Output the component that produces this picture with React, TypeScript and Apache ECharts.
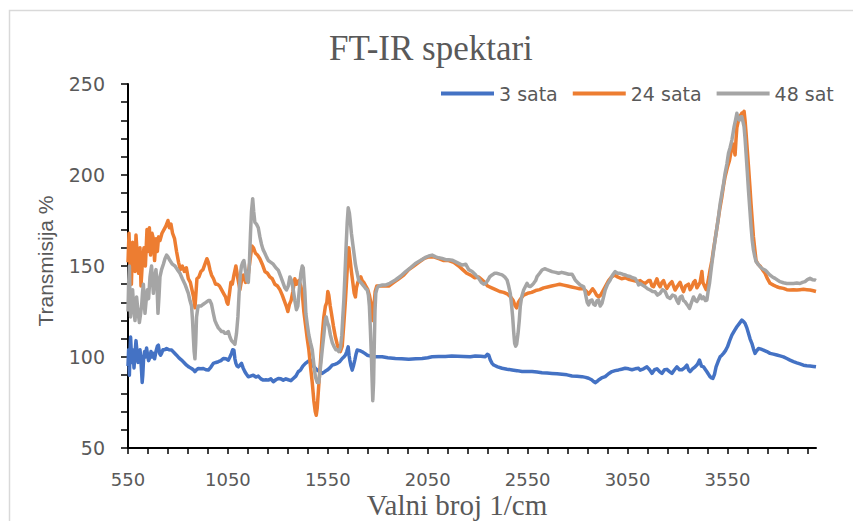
import React, { useEffect, useRef } from "react";
import * as echarts from "echarts";

const title = "FT-IR spektari";
const xAxisName = "Valni broj 1/cm";
const yAxisName = "Transmisija %";
const seriesNames = ["3 sata", "24 sata", "48 sat"];
const seriesColors = ["#4472C4", "#ED7D31", "#A5A5A5"];
const xMin = 550;
const xMax = 3993;
const yMin = 50;
const yMax = 250;

const sata3: [number, number][] = [
  [550, 95], [553, 104], [557, 90], [560, 103], [563, 111], [566, 104], [570, 97], [573, 104], [577, 100], [580, 94],
  [585, 102], [590, 109], [595, 103], [600, 97], [605, 100], [610, 104], [614, 99], [618, 92], [621, 86], [624, 90],
  [628, 99], [633, 103], [638, 100], [643, 105], [648, 101], [653, 98], [660, 100], [665, 103], [670, 100], [677, 102],
  [683, 99], [690, 103], [697, 106], [702, 106.5], [708, 102], [713, 101], [718, 102], [725, 104], [733, 104], [743, 104.7],
  [755, 104], [768, 103.8], [780, 102.5], [793, 101], [805, 99.5], [818, 98.3], [830, 97], [843, 95.5], [855, 94.5], [868, 93.7],
  [877, 93], [885, 91.9], [893, 93], [902, 93.7], [915, 93.5], [927, 93.7], [940, 93], [952, 92.8], [965, 94.5], [977, 96.5],
  [990, 97], [1002, 97.4], [1015, 98], [1027, 99.2], [1040, 99], [1052, 98.3], [1060, 100], [1068, 102], [1074, 104], [1080, 103.8],
  [1085, 99], [1090, 96.5], [1096, 95], [1102, 94.6], [1110, 95.5], [1118, 96.5], [1126, 94], [1135, 91.9], [1143, 90.5], [1152, 89.1],
  [1163, 89.5], [1177, 90], [1190, 89], [1202, 89.5], [1215, 88], [1227, 87.3], [1240, 87.5], [1252, 87.3], [1265, 88], [1277, 86.4],
  [1290, 87.5], [1302, 88.2], [1315, 88], [1327, 87.3], [1340, 88], [1352, 87.5], [1365, 87], [1377, 88.2], [1390, 89.5], [1402, 91.9],
  [1413, 92.8], [1425, 95], [1438, 96.5], [1450, 97.5], [1463, 98.3], [1472, 96.5], [1480, 94.6], [1490, 93.5], [1497, 92.8], [1510, 92],
  [1522, 91], [1535, 92], [1547, 92.8], [1560, 94], [1572, 95.5], [1585, 96], [1597, 96.5], [1610, 97.5], [1622, 99.2], [1630, 100],
  [1638, 101], [1645, 103], [1652, 105.6], [1656, 101], [1660, 98.3], [1666, 95], [1672, 92.8], [1678, 95], [1685, 98.3], [1691, 101.5],
  [1697, 103.8], [1710, 103.5], [1722, 102.9], [1735, 102], [1747, 101], [1765, 100.5], [1780, 100.1], [1800, 100.1], [1822, 100.1], [1850, 99.6],
  [1888, 99.2], [1920, 99], [1955, 98.7], [1990, 99], [2022, 99.2], [2050, 99.6], [2072, 100.1], [2105, 100.3], [2138, 100.3], [2170, 100.5],
  [2200, 100.4], [2230, 100.3], [2263, 100.1], [2288, 100.6], [2315, 100.4], [2338, 100.2], [2348, 101.5], [2355, 101.1], [2363, 98.4], [2372, 96.5],
  [2380, 95.6], [2400, 94.6], [2422, 93.8], [2447, 93.3], [2472, 92.9], [2497, 92.5], [2522, 92], [2547, 92], [2572, 92], [2597, 91.7],
  [2622, 91.4], [2647, 91.2], [2672, 91], [2697, 90.8], [2722, 90.5], [2747, 90.2], [2772, 89.6], [2797, 89.4], [2822, 89.2], [2840, 88.8],
  [2855, 88.3], [2870, 87.5], [2880, 86.5], [2888, 85.9], [2897, 86.5], [2905, 87.4], [2920, 88.5], [2938, 89.2], [2955, 90.8], [2972, 92],
  [2988, 92.5], [3005, 92.9], [3020, 93.3], [3038, 93.8], [3055, 93.5], [3072, 93], [3088, 93.5], [3105, 93.8], [3113, 92.8], [3130, 93.5],
  [3147, 94.6], [3160, 93], [3172, 91], [3185, 93], [3197, 93.5], [3210, 92], [3222, 91], [3235, 93], [3247, 93.2], [3260, 92],
  [3272, 91], [3285, 93], [3297, 94.6], [3310, 93], [3322, 93], [3335, 94], [3347, 95.5], [3355, 93], [3363, 92], [3375, 93.5],
  [3388, 94.6], [3400, 96], [3410, 98.3], [3420, 95], [3430, 94.6], [3440, 93], [3447, 91.9], [3455, 90.5], [3463, 89.2], [3470, 88.5],
  [3477, 88.2], [3485, 90.5], [3493, 94.6], [3503, 97.5], [3513, 100.1], [3522, 101], [3530, 102], [3540, 103.5], [3550, 105.6], [3561, 109],
  [3572, 112], [3585, 114.5], [3597, 116.6], [3610, 118.5], [3622, 120.3], [3630, 119.5], [3638, 118.5], [3647, 116], [3655, 113], [3663, 110],
  [3672, 107.5], [3680, 104.5], [3688, 102], [3697, 103.5], [3705, 104.7], [3718, 104.3], [3730, 103.8], [3747, 103], [3763, 102], [3780, 101.6],
  [3797, 101.1], [3813, 100.6], [3830, 100.1], [3847, 99.2], [3863, 98.3], [3880, 97.5], [3897, 96.8], [3913, 96.2], [3930, 95.5], [3947, 95.2],
  [3963, 95], [3980, 94.8], [3993, 94.6],
];

const sata24: [number, number][] = [
  [550, 152], [555, 168], [560, 150], [567, 140], [573, 163], [580, 155], [585, 147], [590, 167], [597, 155], [603, 146],
  [610, 160], [615, 139], [622, 152], [630, 160], [637, 150], [645, 170], [650, 158], [657, 171], [663, 156], [670, 168],
  [677, 165], [683, 153], [690, 165], [697, 158], [703, 166], [710, 164], [720, 168], [730, 170], [740, 172], [750, 175],
  [757, 171], [765, 173], [773, 168], [783, 165], [793, 158], [803, 152], [812, 148], [822, 150], [832, 147], [842, 149],
  [852, 143], [862, 141], [870, 137], [878, 133], [885, 127], [890, 135], [895, 143], [905, 144], [915, 147], [925, 148],
  [935, 151], [945, 154], [952, 152], [960, 148], [968, 145], [978, 143], [988, 140], [998, 140], [1008, 139], [1018, 137],
  [1028, 135], [1038, 133], [1045, 130], [1050, 129], [1058, 135], [1065, 141], [1072, 140], [1080, 145], [1090, 150], [1100, 143],
  [1110, 137], [1118, 142], [1128, 145], [1138, 141], [1148, 142], [1155, 148], [1163, 155], [1170, 161], [1178, 160], [1188, 157],
  [1198, 156], [1210, 154], [1222, 151], [1235, 147], [1248, 146], [1260, 144], [1272, 143], [1285, 140], [1298, 139], [1310, 137],
  [1322, 134], [1332, 131], [1342, 128], [1350, 125], [1358, 129], [1366, 131], [1375, 136], [1385, 143], [1393, 140], [1405, 142],
  [1415, 139], [1422, 135], [1430, 125], [1438, 118], [1447, 110], [1455, 104], [1463, 95], [1472, 86], [1480, 76], [1487, 70],
  [1492, 68], [1497, 72], [1505, 85], [1513, 97], [1522, 112], [1530, 122], [1538, 128], [1545, 130], [1550, 136], [1555, 134],
  [1562, 128], [1568, 124], [1578, 117], [1588, 111], [1597, 107], [1605, 104], [1613, 103], [1622, 106], [1630, 118], [1638, 131],
  [1647, 148], [1655, 160], [1662, 153], [1668, 147], [1675, 141], [1682, 135], [1688, 133], [1693, 138], [1700, 141], [1708, 143],
  [1715, 144], [1722, 142], [1730, 141], [1740, 139], [1750, 137], [1758, 134], [1765, 130], [1770, 125], [1775, 120], [1780, 127],
  [1787, 136], [1795, 139], [1810, 139], [1830, 139], [1855, 139], [1880, 141], [1905, 143], [1930, 145], [1955, 148], [1980, 150],
  [2005, 152], [2030, 154], [2055, 155], [2080, 155], [2105, 154], [2130, 153], [2155, 153], [2180, 152], [2205, 150], [2225, 148],
  [2245, 146], [2265, 145], [2285, 143.5], [2305, 144], [2320, 142.5], [2335, 141], [2350, 139], [2370, 138], [2390, 137], [2410, 136],
  [2430, 135.5], [2450, 134.5], [2465, 133], [2478, 131], [2488, 128], [2495, 127], [2503, 130], [2515, 132], [2530, 134], [2550, 135],
  [2570, 135.5], [2590, 136.5], [2610, 137], [2630, 138], [2650, 138.5], [2670, 139], [2690, 139.5], [2710, 140], [2730, 139.5], [2750, 139],
  [2770, 138.5], [2790, 138], [2810, 137.5], [2830, 137.5], [2845, 136], [2855, 134.5], [2865, 136], [2875, 137.5], [2885, 136], [2895, 134],
  [2905, 133], [2915, 134], [2925, 136], [2940, 139], [2955, 142], [2970, 144], [2985, 145], [3000, 144], [3020, 143], [3040, 143.5],
  [3060, 142.5], [3080, 142], [3100, 141.5], [3113, 142], [3125, 141], [3138, 140.4], [3155, 142], [3163, 142], [3172, 139], [3180, 138.6],
  [3197, 143], [3205, 140], [3213, 138.6], [3222, 141], [3230, 142], [3240, 139], [3247, 137.7], [3260, 140], [3272, 141.4], [3280, 139],
  [3288, 136.8], [3300, 139], [3313, 141], [3322, 138], [3330, 135.9], [3340, 139], [3355, 140], [3363, 137], [3372, 138.6], [3380, 141],
  [3388, 142], [3397, 138], [3405, 139.5], [3413, 141], [3422, 147], [3427, 141], [3435, 139], [3443, 137], [3450, 140], [3457, 144],
  [3463, 148], [3472, 153], [3480, 159], [3490, 166], [3500, 173], [3511, 181], [3522, 188], [3530, 194], [3538, 199], [3549, 204],
  [3560, 208], [3568, 213], [3577, 217], [3583, 214], [3588, 211], [3593, 220], [3597, 226], [3603, 229], [3610, 232], [3617, 233],
  [3622, 234], [3628, 234], [3633, 235], [3638, 230], [3643, 223], [3649, 214], [3655, 205], [3662, 194], [3668, 184], [3674, 175],
  [3680, 166], [3687, 159], [3693, 153], [3703, 151], [3713, 150], [3725, 148], [3738, 146], [3750, 143], [3763, 140.5], [3780, 139.5],
  [3797, 138.6], [3813, 138], [3830, 137.7], [3847, 137], [3863, 136.8], [3880, 137], [3897, 136.8], [3913, 137], [3930, 137.2], [3947, 137],
  [3963, 136.8], [3980, 136.4], [3993, 136],
];

const sat48: [number, number][] = [
  [550, 125], [553, 140], [557, 150], [560, 132], [563, 122], [568, 130], [573, 137], [578, 128], [585, 120], [590, 128],
  [593, 133], [600, 125], [607, 119], [612, 123], [618, 128], [623, 136], [627, 140], [631, 131], [635, 124], [640, 130],
  [647, 137], [653, 132], [660, 144], [665, 148], [668, 150], [673, 141], [677, 135], [683, 143], [690, 148], [695, 140],
  [700, 124], [705, 133], [710, 144], [718, 148], [727, 151], [735, 154], [743, 156], [750, 155], [760, 153], [772, 151],
  [785, 150], [797, 148], [810, 146], [822, 143], [835, 140], [845, 137], [852, 135], [860, 131], [868, 128], [873, 120],
  [877, 111], [881, 103], [885, 99], [889, 108], [893, 122], [898, 126], [902, 128], [915, 128], [927, 129], [940, 130],
  [952, 131], [960, 131], [968, 129], [977, 124], [985, 120], [993, 118], [1002, 116], [1010, 115], [1018, 114], [1027, 114],
  [1035, 113], [1043, 113], [1052, 114], [1060, 111], [1068, 109], [1077, 108], [1085, 107], [1093, 113], [1100, 122], [1106, 135],
  [1112, 145], [1118, 150], [1124, 152], [1130, 153], [1138, 147], [1145, 142], [1152, 141], [1157, 150], [1163, 168], [1168, 180],
  [1174, 187], [1179, 180], [1185, 174], [1193, 173], [1202, 171], [1210, 166], [1218, 162], [1226, 159], [1235, 157], [1243, 155],
  [1252, 153], [1265, 152], [1277, 151], [1290, 149], [1302, 147.7], [1315, 144], [1327, 140.4], [1335, 138], [1343, 136.8], [1352, 139],
  [1360, 144], [1368, 142], [1377, 137], [1385, 131], [1393, 126], [1400, 128], [1408, 138], [1415, 146], [1422, 150], [1427, 149],
  [1435, 136], [1440, 124], [1447, 118], [1455, 112], [1463, 108], [1472, 104], [1480, 96], [1488, 89], [1497, 86], [1505, 86],
  [1513, 94], [1522, 104], [1530, 112], [1537, 120], [1542, 122], [1548, 119], [1555, 117], [1563, 112], [1572, 108], [1580, 106],
  [1590, 104], [1597, 104], [1605, 103], [1613, 105], [1620, 112], [1625, 122], [1630, 131], [1636, 146], [1642, 162], [1647, 174],
  [1652, 182], [1658, 179], [1663, 174], [1668, 168], [1675, 162], [1682, 156], [1688, 151], [1695, 147], [1705, 142], [1715, 141],
  [1730, 139], [1740, 137.5], [1747, 137], [1753, 134], [1758, 128], [1763, 115], [1768, 100], [1772, 86], [1775, 76], [1779, 86],
  [1782, 104], [1786, 125], [1790, 135], [1797, 138], [1805, 139], [1820, 139.5], [1838, 139.5], [1860, 140.5], [1888, 142.3], [1915, 144.5],
  [1938, 146.8], [1963, 149], [1988, 151.4], [2013, 153], [2038, 154.7], [2055, 155.5], [2072, 156], [2090, 155], [2105, 154.5], [2122, 154.2],
  [2140, 153.5], [2155, 153.5], [2172, 153.2], [2195, 152], [2222, 150.5], [2240, 151], [2255, 148], [2272, 147], [2290, 145], [2305, 143.2],
  [2318, 141], [2330, 140], [2340, 140.5], [2350, 142], [2360, 144], [2372, 145.1], [2385, 146], [2397, 146], [2410, 145.5], [2422, 145.1],
  [2435, 144], [2447, 142.3], [2455, 139], [2463, 135], [2470, 128], [2475, 122], [2480, 114], [2485, 107.5], [2490, 106], [2495, 107],
  [2502, 113], [2508, 120], [2513, 127.7], [2520, 133], [2530, 136.8], [2540, 139], [2547, 140.5], [2555, 139], [2563, 138.7], [2572, 139.5],
  [2580, 140.5], [2590, 142], [2597, 144.2], [2610, 146], [2622, 147.8], [2635, 148.5], [2647, 148], [2660, 147.5], [2672, 146.9], [2690, 146.5],
  [2705, 146], [2720, 146.5], [2738, 146], [2755, 145.5], [2772, 145.5], [2780, 144], [2788, 142.3], [2800, 141], [2813, 139.6], [2822, 139],
  [2830, 138.7], [2837, 136], [2842, 133.2], [2848, 130], [2855, 128.6], [2863, 131], [2872, 131.3], [2880, 129], [2888, 128.5], [2897, 131],
  [2905, 131.3], [2913, 128], [2922, 129.5], [2930, 133], [2938, 136.8], [2950, 140], [2963, 142.3], [2975, 145], [2988, 146.9], [3000, 146],
  [3013, 146], [3025, 145.5], [3038, 145.1], [3050, 144.5], [3063, 144.2], [3075, 143.5], [3088, 143.2], [3100, 141], [3105, 139.6], [3113, 140.4],
  [3125, 139.5], [3138, 138.6], [3150, 137.5], [3163, 136.8], [3175, 136], [3188, 135.8], [3200, 134], [3213, 135], [3225, 137], [3238, 136],
  [3250, 133], [3263, 132.2], [3275, 134], [3288, 133.5], [3297, 131], [3305, 129.5], [3313, 133], [3322, 133.5], [3330, 131], [3338, 130.4],
  [3350, 128.5], [3360, 126.7], [3370, 130], [3380, 133], [3390, 131], [3397, 130.5], [3405, 132], [3413, 134], [3422, 132], [3430, 133],
  [3440, 131], [3447, 131.3], [3453, 136], [3460, 140.4], [3466, 146], [3472, 151.4], [3480, 158], [3488, 164.3], [3497, 171], [3505, 177.1],
  [3513, 184], [3522, 189.9], [3530, 195], [3538, 200.9], [3547, 206], [3555, 211.9], [3563, 215], [3572, 219.2], [3578, 223], [3583, 226.5],
  [3590, 230], [3597, 233.9], [3603, 231], [3610, 230.2], [3617, 232], [3622, 232], [3628, 229], [3633, 226.5], [3638, 220], [3643, 211.9],
  [3649, 202], [3655, 191.7], [3662, 181], [3668, 171.6], [3674, 164], [3680, 158.8], [3687, 155], [3693, 152.4], [3703, 151], [3713, 149.6],
  [3725, 148.5], [3738, 147.8], [3750, 146.5], [3763, 145], [3775, 144], [3788, 143.2], [3800, 142.3], [3813, 141.4], [3830, 140.8], [3847, 140.4],
  [3863, 140.4], [3880, 140.4], [3897, 140.6], [3913, 140.4], [3925, 141], [3938, 141.4], [3950, 142.5], [3963, 143.2], [3975, 142.5], [3988, 142.3],
  [3993, 142],
];

const seriesData = [sata3, sata24, sat48];

const labelColor = "#595959";
const sansFont = "DejaVu Sans";
const serifFont = "Liberation Serif";

export default function App() {
  const ref = useRef<HTMLDivElement>(null);
  useEffect(() => {
    if (!ref.current) return;
    const chart = echarts.init(ref.current, undefined, { renderer: "svg" });
    chart.setOption({
      animation: false,
      backgroundColor: "#ffffff",
      title: {
        text: title,
        left: 329,
        top: 31,
        padding: 0,
        textStyle: {
          fontFamily: serifFont,
          fontSize: 35,
          fontWeight: "normal",
          color: labelColor,
        },
      },
      legend: {
        data: seriesNames,
        left: 441,
        top: 84,
        padding: 0,
        icon: "rect",
        itemWidth: 53,
        itemHeight: 4,
        itemGap: 15,
        textStyle: { fontFamily: sansFont, fontSize: 19, color: labelColor },
      },
      grid: {
        left: 128,
        right: 37,
        top: 84,
        bottom: 73,
        containLabel: false,
        outerBoundsMode: "none",
      },
      xAxis: {
        type: "value",
        min: xMin,
        max: xMax,
        interval: 100,
        name: xAxisName,
        nameLocation: "middle",
        nameGap: 45,
        nameMoveOverlap: false,
        nameTextStyle: {
          fontFamily: serifFont,
          fontSize: 29,
          lineHeight: 24,
          color: labelColor,
          padding: [0, 30, 0, 0],
        },
        axisLine: { show: true, onZero: false, lineStyle: { color: "#000000", width: 2 } },
        axisTick: { show: true, inside: false, length: 6, lineStyle: { color: "#000000", width: 1.5 } },
        splitLine: { show: false },
        axisLabel: {
          margin: 23,
          fontFamily: sansFont,
          fontSize: 18,
          lineHeight: 16,
          color: labelColor,
          showMaxLabel: false,
          formatter: (v: number) => (Math.round(v - xMin) % 500 === 0 ? String(Math.round(v)) : ""),
        },
      },
      yAxis: {
        type: "value",
        min: yMin,
        max: yMax,
        interval: 10,
        name: yAxisName,
        nameLocation: "middle",
        nameGap: 72,
        nameMoveOverlap: false,
        nameTextStyle: {
          fontFamily: "Liberation Sans",
          fontSize: 21,
          color: labelColor,
          padding: [0, 0, 0, 10],
        },
        axisLine: { show: true, lineStyle: { color: "#000000", width: 2 } },
        axisTick: { show: true, inside: false, length: 7, lineStyle: { color: "#000000", width: 1.5 } },
        splitLine: { show: false },
        axisLabel: {
          margin: 23,
          fontFamily: sansFont,
          fontSize: 19,
          color: labelColor,
          formatter: (v: number) => (Math.round(v) % 50 === 0 ? String(Math.round(v)) : ""),
        },
      },
      graphic: [
        {
          type: "rect",
          left: 7,
          top: 8,
          shape: { width: 900, height: 600 },
          style: { fill: "none", stroke: "#D9D9D9", lineWidth: 1.5 },
          silent: true,
          z: -1,
        },
      ],
      series: seriesNames.map((name, i) => ({
        name,
        type: "line",
        data: seriesData[i],
        showSymbol: false,
        symbol: "none",
        color: seriesColors[i],
        lineStyle: { width: 3.5, color: seriesColors[i], join: "round" },
        emphasis: { disabled: true },
        z: 2 + i,
      })),
    });
    return () => chart.dispose();
  }, []);
  return (
    <div
      ref={ref}
      style={{ position: "absolute", left: 0, top: 0, width: 853, height: 521 }}
    />
  );
}
